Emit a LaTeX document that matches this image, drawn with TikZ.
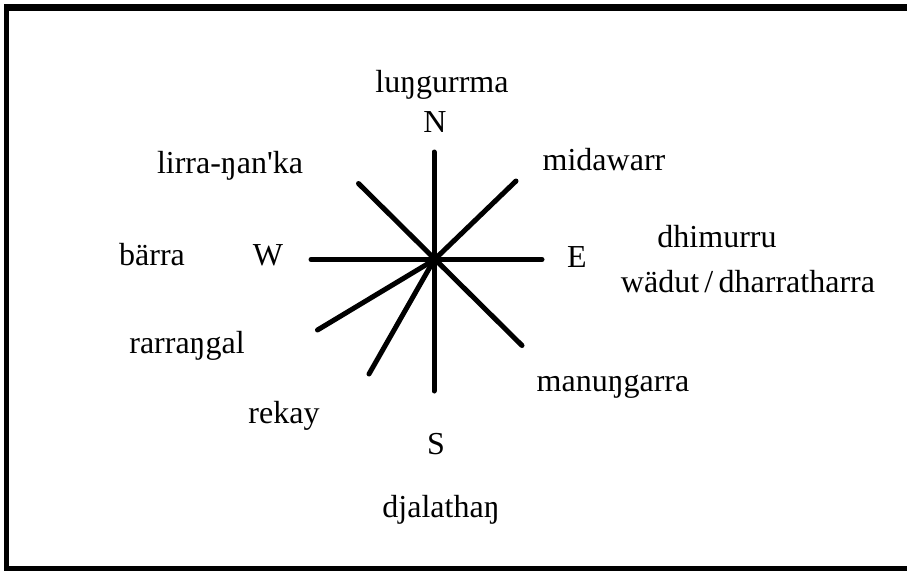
\documentclass[tikz,border=0pt]{standalone}
\usepackage{fontspec}
\newfontfamily\labelfont{Liberation Serif}
\begin{document}
\begin{tikzpicture}[x=1pt,y=-1pt,
  lbl/.style={anchor=base,inner sep=0pt,font=\labelfont\fontsize{32}{34}\selectfont},
  ray/.style={line width=5pt,line cap=round},
  frameline/.style={line cap=butt}]
\useasboundingbox (0,0) rectangle (907,571);
% frame
\draw[frameline,line width=7pt] (4,7.5) -- (907,7.5);
\draw[frameline,line width=4.5pt] (6.25,4) -- (6.25,571);
\draw[frameline,line width=5pt] (4,568.5) -- (907,568.5);
% compass
\coordinate (c) at (434,260);
\coordinate (pN) at (434,152);
\coordinate (pS) at (434,391);
\coordinate (pW) at (311,259.5);
\coordinate (pE) at (542,259.5);
\coordinate (pNW) at (358.5,183.5);
\coordinate (pSE) at (522,345.5);
\coordinate (pNE) at (516,181);
\coordinate (pSW) at (317.5,330);
\coordinate (pSSW) at (369,374);
\draw[ray] (pN) -- (pS);
\draw[ray] (pW) -- (pE);
\draw[ray] (pNW) -- (pSE);
\draw[ray] (c) -- (pNE);
\draw[ray] (c) -- (pSW);
\draw[ray] (c) -- (pSSW);
\fill (c) circle (4);
% labels
\node[lbl] (lungurrma) at (442,92) {luŋgurrma};
\node[lbl] (N) at (435,132) {N};
\node[lbl] (lirra) at (230,173) {lirra-ŋan'ka};
\node[lbl] (midawarr) at (604,170) {midawarr};
\node[lbl] (barra) at (152,265) {bärra};
\node[lbl] (W) at (268,265) {W};
\node[lbl] (E) at (577,267) {E};
\node[lbl] (dhimurru) at (717,247) {dhimurru};
\node[lbl] (wadut) at (748,292) {wädut\,/\,dharratharra};
\node[lbl] (rarrangal) at (187,353) {rarraŋgal};
\node[lbl] (manungarra) at (613,391) {manuŋgarra};
\node[lbl] (rekay) at (284,423) {rekay};
\node[lbl] (S) at (436,454) {S};
\node[lbl] (djalathan) at (441,517) {djalathaŋ};
\end{tikzpicture}
\end{document}
